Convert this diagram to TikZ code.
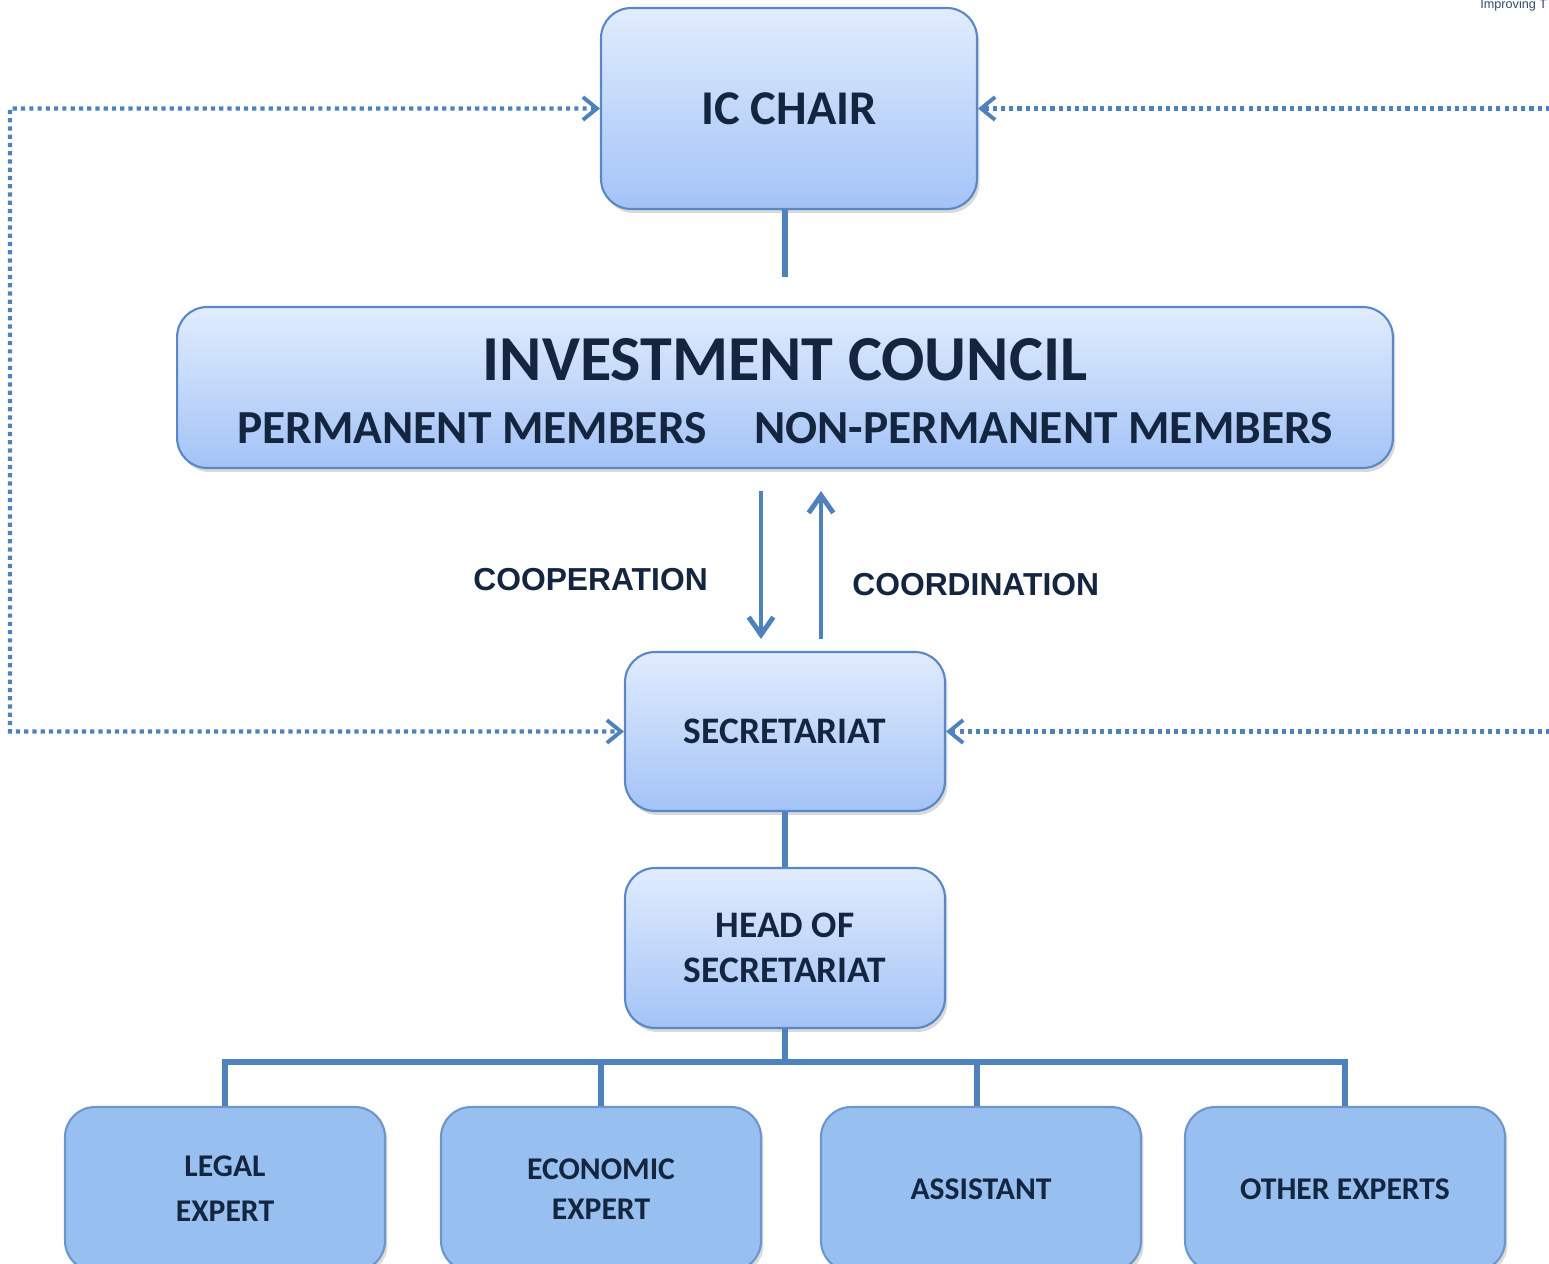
\documentclass[tikz,border=0pt]{standalone}
\usepackage{fontspec}
\setmainfont{Carlito}
\newfontfamily\labelfont{Liberation Sans}
\usetikzlibrary{arrows.meta, shadows}
\definecolor{boxtop}{HTML}{E1ECFD}
\definecolor{boxbottom}{HTML}{A3C3F7}
\definecolor{boxedge}{HTML}{5A88C6}
\definecolor{lineblue}{HTML}{4F81BD}
\definecolor{inktext}{HTML}{14263F}
\definecolor{expertfill}{HTML}{97BFEF}
\definecolor{expertedge}{HTML}{6E96CC}
\definecolor{tagtext}{HTML}{2E4A6B}
\tikzstyle{level} = [rectangle, rounded corners=0.6cm,
text centered,
draw=boxedge, line width=1.2pt,
top color=boxtop, bottom color=boxbottom,
text=inktext, font=\bfseries,
drop shadow={opacity=0.3, shadow xshift=0.05cm, shadow yshift=-0.08cm}]
\tikzstyle{expert} = [rectangle, rounded corners=0.6cm,
minimum width=6.4cm,
minimum height=3.28cm,
text centered, align=center,
draw=expertedge, line width=1.2pt,
fill=expertfill,
text=inktext, font=\fontsize{18}{22.5}\selectfont\bfseries,
drop shadow={opacity=0.3, shadow xshift=0.05cm, shadow yshift=-0.08cm}]
\tikzstyle{tie} = [line width=3pt, draw=lineblue]
\tikzstyle{flow} = [line width=2.8pt, draw=lineblue, ->,
>={Straight Barb[length=10pt, width=14pt]}]
\tikzstyle{link} = [line width=2.4pt, draw=lineblue,
dash pattern=on 2.4pt off 2.3pt,
>={Straight Barb[length=8pt, width=13pt, line width=2.2pt]}]
\tikzstyle{tag} = [text=inktext, font=\labelfont\fontsize{18.1}{22}\selectfont\bfseries]

\begin{document}
\begin{tikzpicture}[x=0.02cm, y=-0.02cm]
		\useasboundingbox (0,0) rectangle (1549,1264);
		\clip (0,0) rectangle (1549,1264);

		\node (chair) [level, minimum width=7.52cm, minimum height=4.02cm, font=\fontsize{27.6}{32}\selectfont\bfseries] at (789,108.5) {IC CHAIR};
		\node (council) [level, minimum width=24.32cm, minimum height=3.22cm] at (785,387.5) {};
		\node (ictitle) [text=inktext, font=\fontsize{36.5}{42}\selectfont\bfseries] at (785,360) {INVESTMENT COUNCIL};
		\node (members) [text=inktext, font=\fontsize{27}{32}\selectfont\bfseries] at (785,428) {PERMANENT MEMBERS\hspace{1.0em}NON-PERMANENT MEMBERS};
		\node (sec) [level, minimum width=6.4cm, minimum height=3.18cm, font=\fontsize{21.3}{25}\selectfont\bfseries] at (785,731.5) {SECRETARIAT};
		\node (head) [level, minimum width=6.4cm, minimum height=3.2cm, align=center, font=\fontsize{21.3}{25.5}\selectfont\bfseries] at (785,948) {HEAD OF\\SECRETARIAT};

		\node (legal) [expert] at (225,1189) {LEGAL\\[3pt]EXPERT};
		\node (econ) [expert] at (601,1189) {ECONOMIC\\EXPERT};
		\node (assist) [expert] at (981,1189) {ASSISTANT};
		\node (others) [expert] at (1345,1189) {OTHER EXPERTS};

		\node (brand) [anchor=west, inner sep=0pt, text=tagtext, font=\labelfont\fontsize{7.2}{8}\selectfont] at (1480,5) {Improving T};

		% chair to council, council to secretariat
		\draw [tie, shorten >=0.58cm] (chair.south -| council.north) -- (council.north);
		\draw [flow] ([xshift=-0.48cm, yshift=-0.44cm]council.south) -- node[pos=0.6, anchor=east, xshift=-0.9cm, tag] {COOPERATION} ([xshift=-0.48cm, yshift=0.24cm]sec.north);
		\draw [flow] ([xshift=0.72cm, yshift=0.24cm]sec.north) -- node[pos=0.37, anchor=west, xshift=0.46cm, tag] {COORDINATION} ([xshift=0.72cm, yshift=-0.44cm]council.south);
		\draw [tie] (sec.south) -- (head.north);

		% dotted reporting lines
		\path (chair.west) ++(-590,0) coordinate (lt);
		\path (sec.west) ++(-614,0) coordinate (lb);
		\path (chair.east) ++(572,0) coordinate (rt);
		\path (sec.east) ++(604,0) coordinate (rb);
		\draw [link, <->] (chair.west) -- (lt) -- (lb) -- (sec.west);
		\draw [link, ->] (rt) -- (chair.east);
		\draw [link, ->] (rb) -- (sec.east);

		% staff tree
		\coordinate (bus) at (785,1062);
		\draw [tie] (head.south) -- (bus) -| (legal.north);
		\draw [tie] (bus) -| (econ.north);
		\draw [tie] (bus) -| ([xshift=-0.08cm]assist.north);
		\draw [tie] (bus) -| (others.north);
	\end{tikzpicture}
\end{document}
